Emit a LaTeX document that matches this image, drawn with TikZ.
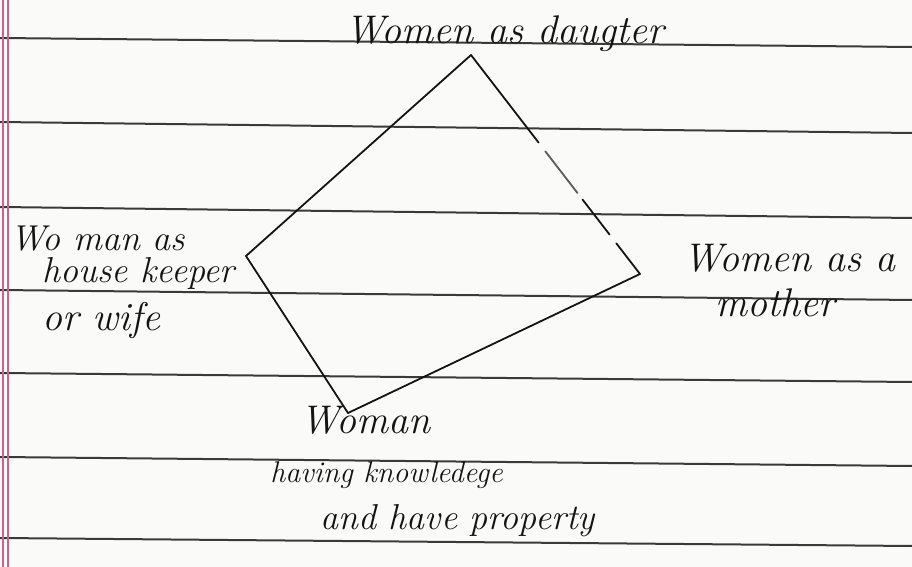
\documentclass[tikz,border=0pt]{standalone}
\usetikzlibrary{calc}
\definecolor{paper}{HTML}{FAFAF8}
\definecolor{rule}{HTML}{3A3A3A}
\definecolor{margin}{HTML}{D0608A}
\definecolor{ink}{HTML}{141414}
\tikzset{
  ruled/.style={draw=rule,line width=1pt},
  marginline/.style={draw=margin,line width=0.7pt},
  edge/.style={draw=ink,line width=0.9pt,line cap=round,line join=round},
  hand/.style={inner sep=0pt,text=ink,font=\fontsize{18}{20}\selectfont\itshape},
  handbig/.style={hand,font=\fontsize{20}{22}\selectfont\itshape},
  handsmall/.style={hand,font=\fontsize{15}{18}\selectfont\itshape},
}
\begin{document}
\begin{tikzpicture}[x=0.5pt,y=-0.5pt]
\useasboundingbox (0,0) rectangle (912,567);
\fill[paper] (0,0) rectangle (912,567);
% ruled lines
\draw[ruled] (0,38) -- (912,47);
\draw[ruled] (0,122) -- (912,133);
\draw[ruled] (0,207) -- (912,218);
\draw[ruled] (0,290) -- (912,300);
\draw[ruled] (0,373) -- (912,382);
\draw[ruled] (0,457) -- (912,466);
\draw[ruled] (0,538) -- (912,546);
% margin lines
\draw[marginline] (3,0) -- (3,567);
\draw[marginline] (8,0) -- (8,567);
% vertices
\coordinate (top) at (471,55);
\coordinate (left) at (246,256);
\coordinate (right) at (640,274);
\coordinate (bottom) at (348,413);
% edges
\draw[edge] (top) -- (left);
\draw[edge] (left) -- (bottom);
\draw[edge] (bottom) -- (right);
\draw[edge] (top) -- ($(top)!0.40!(right)$);
\draw[edge,ink!70] ($(top)!0.44!(right)$) -- ($(top)!0.63!(right)$);
\draw[edge] ($(top)!0.66!(right)$) -- ($(top)!0.82!(right)$);
\draw[edge] ($(top)!0.86!(right)$) -- (right);
% labels
\node[handbig,anchor=base] (daughter) at (505,44) {Women as daugter};
\node[hand,anchor=base west] (wife1) at (10,250) {Wo man as};
\node[hand,anchor=base west] (wife2) at (42,283) {house keeper};
\node[handbig,anchor=base west] (wife3) at (42,330) {or wife};
\node[handbig,anchor=base west] (mother1) at (683,271) {Women as a};
\node[handbig,anchor=base west] (mother2) at (715,316) {mother};
\node[handbig,anchor=base west] (kn1) at (300,433) {Woman};
\node[handsmall,anchor=base west] (kn2) at (270,482) {having knowledege};
\node[hand,anchor=base west] (kn3) at (320,530) {and have property};
\end{tikzpicture}
\end{document}
